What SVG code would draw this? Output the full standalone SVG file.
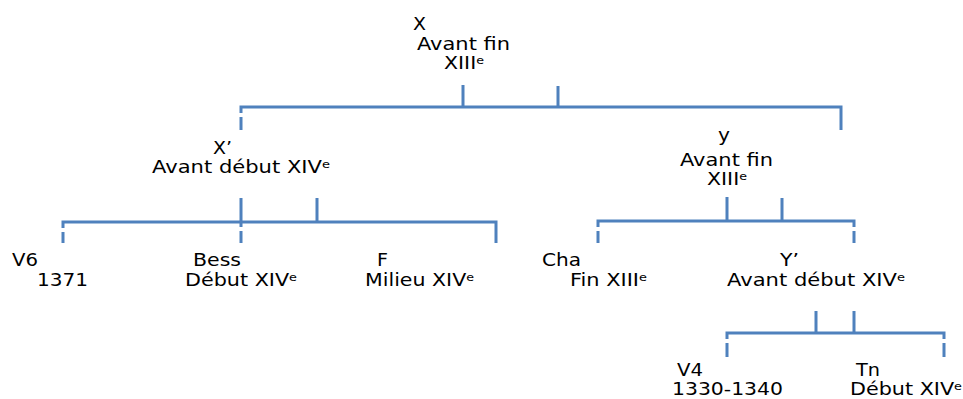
<svg xmlns="http://www.w3.org/2000/svg" width="963" height="399" viewBox="0 0 963 399">
<style>
.t{font-family:"DejaVu Sans","Liberation Sans",sans-serif;font-size:17px;fill:#000}
.s{font-size:10.5px}
.c{fill:none;stroke:#4F81BD;stroke-width:3;stroke-linecap:butt;stroke-linejoin:miter}
</style>
<rect width="963" height="399" fill="#fff"/>
<g id="connectors" class="c">
<path d="M241,113 V107 H841 V130 M241,117 V130 M463,85 V107 M558,86 V107"/>
<path d="M63,228 V222 H496 V243 M63,232 V243 M241,198 V227 M241,231 V243 M317,198 V222"/>
<path d="M598,227 V221 H854 V227 M598,231 V243 M854,231 V243 M727,197 V221 M782,198 V221"/>
<path d="M727,339 V333 H944 V339 M727,343 V357 M944,343 V357 M816,311 V333 M854,311 V333"/>
</g>
<g id="node-X">
<text class="t" x="413" y="30" textLength="13" lengthAdjust="spacingAndGlyphs">X</text>
<text class="t" x="417" y="50" textLength="93" lengthAdjust="spacingAndGlyphs">Avant fin</text>
<text class="t" x="444" y="69" textLength="40" lengthAdjust="spacingAndGlyphs">XIII<tspan class="s" dy="-5">e</tspan></text>
</g>
<g id="node-Xp">
<text class="t" x="213" y="154" textLength="19" lengthAdjust="spacingAndGlyphs">X’</text>
<text class="t" x="152" y="173" textLength="178" lengthAdjust="spacingAndGlyphs">Avant début XIV<tspan class="s" dy="-5">e</tspan></text>
</g>
<g id="node-y">
<text class="t" x="718" y="141" textLength="12" lengthAdjust="spacingAndGlyphs">y</text>
<text class="t" x="680" y="166" textLength="93" lengthAdjust="spacingAndGlyphs">Avant fin</text>
<text class="t" x="707" y="185" textLength="40" lengthAdjust="spacingAndGlyphs">XIII<tspan class="s" dy="-5">e</tspan></text>
</g>
<g id="node-V6">
<text class="t" x="12" y="266" textLength="26" lengthAdjust="spacingAndGlyphs">V6</text>
<text class="t" x="37" y="286" textLength="51" lengthAdjust="spacingAndGlyphs">1371</text>
</g>
<g id="node-Bess">
<text class="t" x="193" y="266" textLength="48" lengthAdjust="spacingAndGlyphs">Bess</text>
<text class="t" x="185" y="286" textLength="112" lengthAdjust="spacingAndGlyphs">Début XIV<tspan class="s" dy="-5">e</tspan></text>
</g>
<g id="node-F">
<text class="t" x="377" y="266" textLength="11" lengthAdjust="spacingAndGlyphs">F</text>
<text class="t" x="365" y="286" textLength="109" lengthAdjust="spacingAndGlyphs">Milieu XIV<tspan class="s" dy="-5">e</tspan></text>
</g>
<g id="node-Cha">
<text class="t" x="542" y="266" textLength="39" lengthAdjust="spacingAndGlyphs">Cha</text>
<text class="t" x="570" y="286" textLength="77" lengthAdjust="spacingAndGlyphs">Fin XIII<tspan class="s" dy="-5">e</tspan></text>
</g>
<g id="node-Yp">
<text class="t" x="780" y="266" textLength="19" lengthAdjust="spacingAndGlyphs">Y’</text>
<text class="t" x="727" y="286" textLength="178" lengthAdjust="spacingAndGlyphs">Avant début XIV<tspan class="s" dy="-5">e</tspan></text>
</g>
<g id="node-V4">
<text class="t" x="677" y="376" textLength="26" lengthAdjust="spacingAndGlyphs">V4</text>
<text class="t" x="672" y="395" textLength="111" lengthAdjust="spacingAndGlyphs">1330-1340</text>
</g>
<g id="node-Tn">
<text class="t" x="856" y="376" textLength="24" lengthAdjust="spacingAndGlyphs">Tn</text>
<text class="t" x="850" y="395" textLength="112" lengthAdjust="spacingAndGlyphs">Début XIV<tspan class="s" dy="-5">e</tspan></text>
</g>
</svg>
